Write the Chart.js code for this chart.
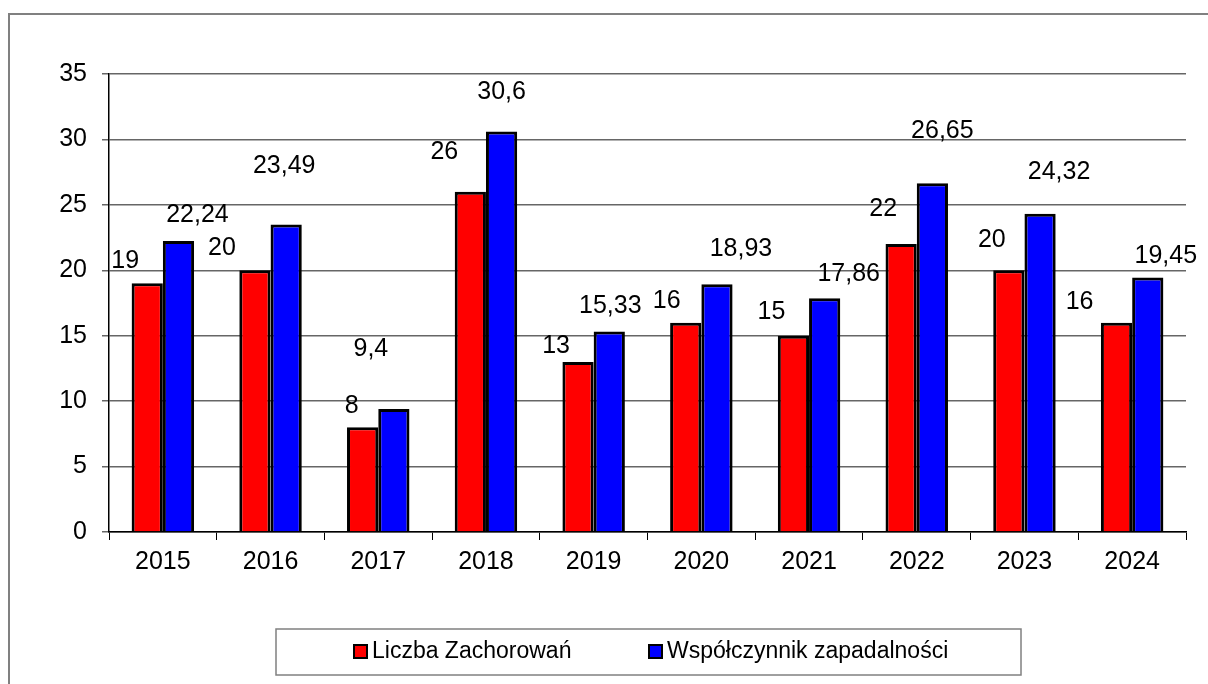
<!DOCTYPE html>
<html>
<head>
<meta charset="utf-8">
<script src="https://cdn.jsdelivr.net/npm/chart.js@4"></script>
<style>
  body { margin: 0; background: #fff; }
  canvas { display: block; }
</style>
</head>
<body>
<canvas id="wykres" width="1208" height="684"></canvas>
<script>
// dane
const lata = ["2015", "2016", "2017", "2018", "2019", "2020", "2021", "2022", "2023", "2024"];
const zachorowania = [19, 20, 8, 26, 13, 16, 15, 22, 20, 16];
const wspolczynnik = [22.24, 23.49, 9.4, 30.6, 15.33, 18.93, 17.86, 26.65, 24.32, 19.45];

// przesuniecia etykiet (jak w oryginale, recznie poustawiane)
const etykietyDx = [
  [-22, -33, -11, -26, -22, -19, -22, -18, -17, -37],
  [19, -2, -23, 0, 1, 24, 24, 10, 19, 18]
];
const etykietyDy = [
  [-22, -22, -21, -40, -16, -22, -24, -35, -30, -21],
  [-26, -59, -60, -39, -25, -35, -24, -52, -42, -21]
];

const czcionka = '"Liberation Sans", Arial, sans-serif';

const ramka = {
  id: "ramka",
  beforeDraw(chart) {
    const ctx = chart.ctx;
    ctx.save();
    ctx.fillStyle = "#fff";
    ctx.fillRect(0, 0, chart.width, chart.height);
    ctx.strokeStyle = "#808080";
    ctx.lineWidth = 2;
    ctx.strokeRect(9, 14, 1300, 1000);
    ctx.restore();
  }
};

const etykiety = {
  id: "etykiety",
  afterDatasetsDraw(chart) {
    const ctx = chart.ctx;
    ctx.save();
    ctx.font = "25px " + czcionka;
    ctx.fillStyle = "#000";
    ctx.textAlign = "center";
    ctx.textBaseline = "middle";
    chart.data.datasets.forEach((ds, i) => {
      chart.getDatasetMeta(i).data.forEach((bar, j) => {
        const txt = String(ds.data[j]).replace(".", ",");
        ctx.fillText(txt, bar.x + etykietyDx[i][j], bar.y + etykietyDy[i][j]);
      });
    });
    ctx.restore();
  }
};

const legenda = {
  id: "legenda",
  afterDraw(chart) {
    const ctx = chart.ctx;
    ctx.save();
    ctx.strokeStyle = "#808080";
    ctx.lineWidth = 1.5;
    ctx.strokeRect(276, 629, 745, 46);
    const xs = [354, 649];
    ctx.font = "23px " + czcionka;
    ctx.textBaseline = "middle";
    ctx.textAlign = "left";
    chart.data.datasets.forEach((ds, i) => {
      ctx.fillStyle = ds.backgroundColor;
      ctx.fillRect(xs[i], 645, 13, 13);
      ctx.strokeStyle = "#000";
      ctx.lineWidth = 2;
      ctx.strokeRect(xs[i], 645, 13, 13);
      ctx.fillStyle = "#000";
      ctx.fillText(ds.label, xs[i] + 18, 652);
    });
    ctx.restore();
  }
};

new Chart(document.getElementById("wykres").getContext("2d"), {
  type: "bar",
  data: {
    labels: lata,
    datasets: [
      {
        label: "Liczba Zachorowań",
        data: zachorowania,
        backgroundColor: "#ff0000",
        borderColor: "#000",
        borderWidth: 3
      },
      {
        label: "Współczynnik zapadalności",
        data: wspolczynnik,
        backgroundColor: "#0000ff",
        borderColor: "#000",
        borderWidth: 3
      }
    ]
  },
  options: {
    responsive: false,
    animation: false,
    categoryPercentage: 0.58,
    barPercentage: 1,
    layout: { padding: { top: 74, left: 9, right: 22, bottom: 0 } },
    plugins: {
      legend: { display: false },
      tooltip: { enabled: false }
    },
    scales: {
      x: {
        afterFit(s) { s.height = 152; },
        grid: { drawOnChartArea: false, color: "#000", tickLength: 8, offset: true },
        border: { color: "#000", width: 1.5 },
        ticks: { color: "#000", font: { family: czcionka, size: 25 }, padding: 7 }
      },
      y: {
        min: 0,
        max: 35,
        afterFit(s) { s.width = 100; },
        grid: { color: "#666", tickLength: 7, lineWidth: 1.5 },
        border: { color: "#000", width: 1.5 },
        ticks: { stepSize: 5, color: "#000", font: { family: czcionka, size: 25 }, padding: 15 }
      }
    }
  },
  plugins: [ramka, etykiety, legenda]
});
</script>
</body>
</html>
